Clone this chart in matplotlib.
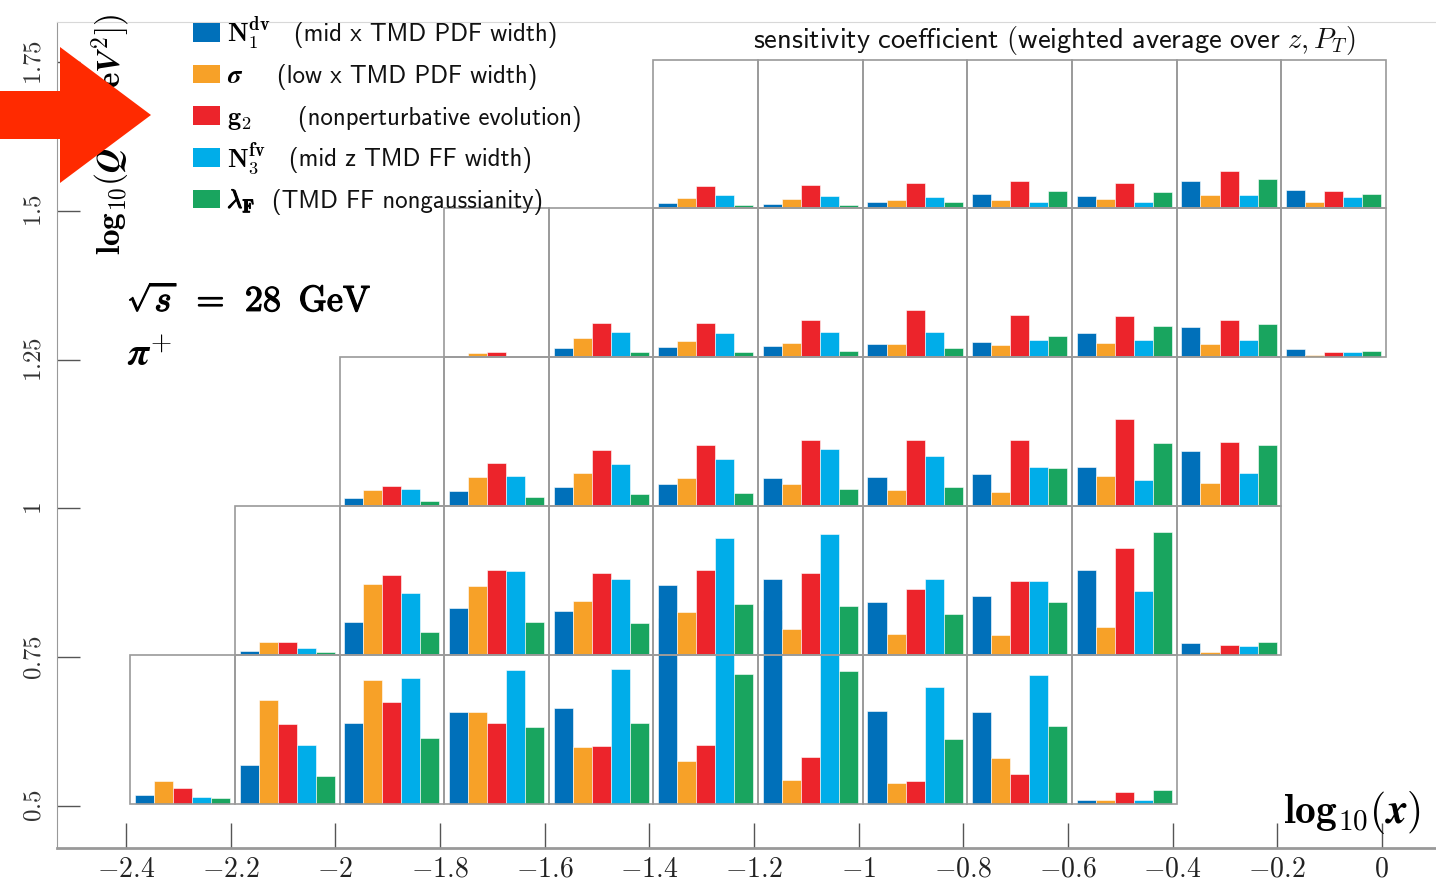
import numpy as np
import matplotlib.pyplot as plt
import matplotlib.patheffects as pe
from matplotlib.patches import Rectangle, Polygon

plt.rcParams['mathtext.fontset'] = 'cm'
plt.rcParams['axes.formatter.use_mathtext'] = True

# log10(Q^2) rows and the first log10(x) bin edge populated in each row
q_rows = [0.5, 0.75, 1.0, 1.25, 1.5]
x_first = [-2.4, -2.2, -2.0, -1.8, -1.4]

# sensitivity per bin (in units of one bin height)
# columns: N1dv, sigma, g2, N3fv, lambdaF
sens_q050 = [[0.056, 0.150, 0.105, 0.047, 0.036],
             [0.260, 0.696, 0.537, 0.394, 0.183],
             [0.541, 0.834, 0.685, 0.843, 0.443],
             [0.613, 0.617, 0.541, 0.897, 0.512],
             [0.644, 0.383, 0.387, 0.906, 0.544],
             [1.250, 0.289, 0.394, 1.200, 0.868],
             [1.300, 0.161, 0.315, 1.250, 0.890],
             [0.624, 0.141, 0.150, 0.781, 0.434],
             [0.615, 0.306, 0.201, 0.864, 0.523],
             [0.025, 0.025, 0.078, 0.022, 0.089]]
sens_q075 = [[0.027, 0.083, 0.083, 0.047, 0.018],
             [0.219, 0.474, 0.535, 0.414, 0.152],
             [0.313, 0.465, 0.570, 0.566, 0.219],
             [0.295, 0.360, 0.548, 0.512, 0.213],
             [0.472, 0.286, 0.570, 0.787, 0.340],
             [0.508, 0.172, 0.553, 0.810, 0.331],
             [0.358, 0.141, 0.443, 0.510, 0.277],
             [0.396, 0.134, 0.499, 0.499, 0.358],
             [0.570, 0.188, 0.720, 0.432, 0.823],
             [0.076, 0.020, 0.065, 0.060, 0.083]]
sens_q100 = [[0.056, 0.110, 0.137, 0.112, 0.034],
             [0.099, 0.195, 0.287, 0.202, 0.063],
             [0.126, 0.220, 0.377, 0.285, 0.083],
             [0.148, 0.186, 0.408, 0.314, 0.090],
             [0.186, 0.146, 0.446, 0.383, 0.117],
             [0.195, 0.108, 0.442, 0.334, 0.126],
             [0.217, 0.092, 0.446, 0.265, 0.253],
             [0.265, 0.204, 0.585, 0.173, 0.422],
             [0.372, 0.155, 0.428, 0.220, 0.408]]
sens_q125 = [[0.005, 0.027, 0.036, 0.003, 0.000],
             [0.061, 0.127, 0.229, 0.167, 0.036],
             [0.066, 0.106, 0.229, 0.165, 0.038],
             [0.072, 0.093, 0.247, 0.172, 0.045],
             [0.090, 0.090, 0.319, 0.170, 0.061],
             [0.100, 0.079, 0.287, 0.113, 0.140],
             [0.160, 0.093, 0.276, 0.113, 0.210],
             [0.206, 0.086, 0.247, 0.113, 0.222],
             [0.054, 0.016, 0.038, 0.038, 0.045]]
sens_q150 = [[0.034, 0.069, 0.150, 0.092, 0.020],
             [0.031, 0.060, 0.154, 0.083, 0.025],
             [0.040, 0.058, 0.174, 0.078, 0.040],
             [0.100, 0.054, 0.181, 0.045, 0.119],
             [0.083, 0.065, 0.174, 0.045, 0.110],
             [0.183, 0.092, 0.250, 0.087, 0.197],
             [0.125, 0.043, 0.114, 0.080, 0.094]]
sens_rows = [sens_q050, sens_q075, sens_q100, sens_q125, sens_q150]

colors = ['#0070ba', '#f7a128', '#ec242b', '#00ade9', '#19a55f']
symbols = [r'$\mathbf{N_1^{dv}}$', r'$\boldsymbol{\sigma}$', r'$\mathbf{g_2}$',
           r'$\mathbf{N_3^{fv}}$', r'$\lambda_\mathbf{F}$']
descriptions = ['(mid x TMD PDF width)', '(low x TMD PDF width)',
                '(nonperturbative evolution)', '(mid z TMD FF width)',
                '(TMD FF nongaussianity)']

xticks = [-2.4, -2.2, -2.0, -1.8, -1.6, -1.4, -1.2, -1.0, -0.8, -0.6, -0.4, -0.2, 0.0]
xtick_labels = [r'$-2.4$', r'$-2.2$', r'$-2$', r'$-1.8$', r'$-1.6$', r'$-1.4$', r'$-1.2$',
                r'$-1$', r'$-0.8$', r'$-0.6$', r'$-0.4$', r'$-0.2$', r'$0$']
yticks = [0.5, 0.75, 1.0, 1.25, 1.5, 1.75]
ytick_labels = [r'$0.5$', r'$0.75$', r'$1$', r'$1.25$', r'$1.5$', r'$1.75$']

W, H = 1436, 881
bin_w, bin_h = 0.2, 0.25
dx, dy = 0.008, 0.004          # bins sit slightly off the tick grid
fill = 0.91                    # share of the bin width taken by the five bars
bar_w = bin_w * fill / 5
margin = bin_w * (1 - fill) / 2
bold = [pe.withStroke(linewidth=0.9, foreground='black')]


def fig_xy(px, py):
    return px / W, 1 - py / H


fig = plt.figure(figsize=(W / 100, H / 100), dpi=100)
ax = fig.add_axes([57 / W, 33 / H, 1 - 57 / W, (848 - 22) / H])
ax.set_xlim(-2.532, 0.1035)
ax.set_ylim(0.4294, 1.8172)

# bars
for q, x0, rows in zip(q_rows, x_first, sens_rows):
    vals = np.array(rows)
    lefts = x0 + bin_w * np.arange(len(vals)) + dx
    for k in range(5):
        ax.bar(lefts + margin + bar_w * (k + 0.5), vals[:, k] * bin_h, width=bar_w,
               bottom=q + dy, color=colors[k], edgecolor='white', linewidth=0.4,
               zorder=2)

# bin outlines on top of the bars
for q, x0, rows in zip(q_rows, x_first, sens_rows):
    for j in range(len(rows)):
        ax.add_patch(Rectangle((x0 + bin_w * j + dx, q + dy), bin_w, bin_h,
                               fill=False, edgecolor='#9a9a9a', linewidth=1.2, zorder=3))

ax.set_xticks(xticks)
ax.set_xticklabels(xtick_labels)
ax.set_yticks(yticks)
ax.set_yticklabels(ytick_labels, rotation=90, va='center')
ax.tick_params(axis='x', direction='in', length=18, width=1, color='#555555',
               labelsize=20, pad=5)
ax.tick_params(axis='y', direction='in', length=16.5, width=1, color='#555555',
               labelsize=18, pad=8)
for lab in ax.get_yticklabels():
    lab.set_color('#333333')
for lab in ax.get_xticklabels():
    lab.set_color('#222222')
ax.spines['right'].set_visible(False)
ax.spines['top'].set_color('#d8d8d8')
ax.spines['left'].set_color('#999999')
ax.spines['bottom'].set_color('#999999')
ax.spines['bottom'].set_linewidth(2)

# legend drawn by hand so the symbol and description columns line up
for i, (c, sym, desc, tx) in enumerate(zip(colors, symbols, descriptions,
                                            [294, 277, 298, 289, 272])):
    yc = 32.5 + 41.6 * i
    x0, y0 = fig_xy(193, yc + 9.2)
    fig.patches.append(Rectangle((x0, y0), 27 / W, 18.5 / H, transform=fig.transFigure,
                                 facecolor=c, edgecolor='none', figure=fig))
    t = fig.text(*fig_xy(227, yc + 9), sym, fontsize=19, va='baseline', ha='left')
    if i == 4:
        t.set_path_effects([pe.withStroke(linewidth=0.8, foreground='black')])
    fig.text(*fig_xy(tx, yc + 9), desc, fontsize=17.8, family='cmss10',
             va='baseline', ha='left', color='#111111')

fig.text(*fig_xy(753, 48), r'$\mathsf{sensitivity\ coefficient\ (weighted\ average\ over}\ z, P_T\mathsf{)}$',
         fontsize=20.5, va='baseline', ha='left', color='#111111')
fig.text(*fig_xy(127, 311), r'$\sqrt{s}\;\,=\;\,28\;\;\mathrm{GeV}$',
         fontsize=26, va='baseline', ha='left', path_effects=bold)
fig.text(*fig_xy(127, 366), r'$\boldsymbol{\pi}^\mathbf{+}$',
         fontsize=28, va='baseline', ha='left')
fig.text(*fig_xy(1283, 823), r'$\mathbf{log}_{\mathbf{10}}(\boldsymbol{x})$',
         fontsize=30, va='baseline', ha='left')
fig.text(*fig_xy(111, 255), r'$\mathbf{log}_{\mathbf{10}}(\boldsymbol{Q}^\mathbf{2}\ [\mathbf{Ge}\boldsymbol{V}^\mathbf{2}])$',
         fontsize=24, rotation=90, ha='center', va='bottom')

# red pointer arrow
arrow_px = [(0, 91), (60, 91), (60, 47), (151, 115), (60, 183), (60, 139), (0, 139)]
fig.patches.append(Polygon([fig_xy(px, py) for px, py in arrow_px], closed=True,
                           transform=fig.transFigure, facecolor='#ff2a00',
                           edgecolor='none', figure=fig, zorder=10))

fig.savefig('out.png', dpi=100)
